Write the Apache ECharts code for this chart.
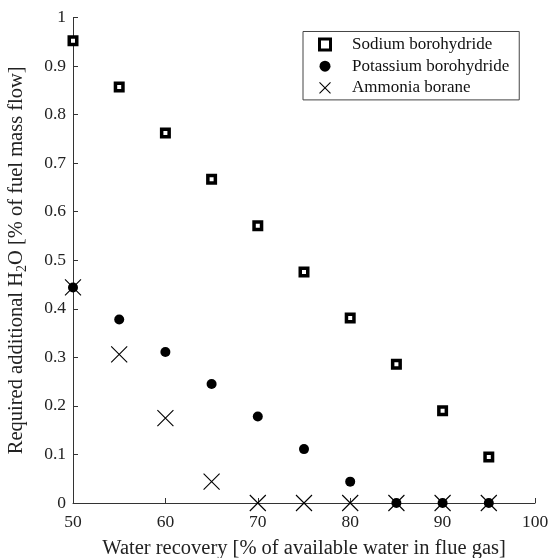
<!DOCTYPE html>
<html>
<head>
<meta charset="utf-8">
<script src="https://cdn.jsdelivr.net/npm/echarts@6/dist/echarts.min.js"></script>
<style>
  html, body { margin: 0; padding: 0; background: #fff; }
  #chart { width: 550px; height: 558px; }
</style>
</head>
<body>
<div id="chart"></div>
<script>
// water recovery [%]
const recovery = [50, 55, 60, 65, 70, 75, 80, 85, 90, 95]
// required additional water [% of fuel mass flow]
const sodium = [0.952, 0.857, 0.762, 0.667, 0.571, 0.476, 0.381, 0.286, 0.190, 0.095]
const potassium = [0.444, 0.378, 0.311, 0.245, 0.178, 0.111, 0.044, 0, 0, 0]
const ammonia = [0.444, 0.306, 0.175, 0.044, 0, 0, 0, 0, 0, 0]
const seriesNames = ['Sodium borohydride', 'Potassium borohydride', 'Ammonia borane']

const font = 'Liberation Serif, Times New Roman, serif'
const axisColor = '#333'
const textColor = '#222'
const crossPath = 'path://M0,0L10,10M10,0L0,10'

const pairs = (ys) => recovery.map((x, i) => [x, ys[i]])

const chart = echarts.init(document.getElementById('chart'))
chart.setOption({
  animation: false,
  textStyle: { fontFamily: font },
  grid: { left: 73, right: 15, top: 17.5, bottom: 55, containLabel: false, outerBoundsMode: 'none' },
  legend: {
    orient: 'vertical',
    left: 303,
    top: 31.5,
    padding: [4.6, 10, 3.6, 14],
    itemGap: 4.6,
    itemWidth: 30,
    itemHeight: 11,
    borderColor: '#444',
    borderWidth: 1,
    textStyle: { fontFamily: font, fontSize: 17, lineHeight: 16, color: '#111', padding: [0, 0, 0, 7] },
    data: [
      {
        name: seriesNames[0],
        icon: 'path://M0,0L10,0L10,10L0,10Z',
        itemStyle: { color: '#fff', borderColor: '#000', borderWidth: 3 },
      },
      { name: seriesNames[1], icon: 'circle', itemStyle: { color: '#000' } },
      {
        name: seriesNames[2],
        icon: crossPath,
        itemStyle: { color: 'none', borderColor: '#000', borderWidth: 1.1 },
      },
    ],
  },
  xAxis: {
    type: 'value',
    min: 50,
    max: 100,
    interval: 10,
    name: 'Water recovery [% of available water in flue gas]',
    nameLocation: 'middle',
    nameGap: 35,
    nameTextStyle: { fontFamily: font, fontSize: 20.5, color: textColor },
    axisLine: { lineStyle: { color: axisColor } },
    axisTick: { inside: true, length: 5, lineStyle: { color: axisColor } },
    axisLabel: { fontFamily: font, fontSize: 17.5, color: textColor, margin: 10 },
    splitLine: { show: false },
  },
  yAxis: {
    type: 'value',
    min: 0,
    max: 1,
    interval: 0.1,
    name: '{a|Required additional H}{s|2}{a|O [% of fuel mass flow]}',
    nameLocation: 'middle',
    nameGap: 44,
    nameTextStyle: {
      fontFamily: font,
      fontSize: 20.5,
      color: textColor,
      rich: {
        a: { fontFamily: font, fontSize: 20.5, color: textColor, lineHeight: 24, verticalAlign: 'middle' },
        s: { fontFamily: font, fontSize: 14, color: textColor, lineHeight: 24, verticalAlign: 'bottom', padding: [9, 0, 0, 0] },
      },
    },
    axisLine: { lineStyle: { color: axisColor } },
    axisTick: { inside: true, length: 5, lineStyle: { color: axisColor } },
    axisLabel: {
      fontFamily: font,
      fontSize: 17.5,
      color: textColor,
      margin: 7,
      formatter: (v) => (v === 0 || v === 1 ? String(v) : v.toFixed(1)),
    },
    splitLine: { show: false },
  },
  series: [
    {
      name: seriesNames[0],
      type: 'scatter',
      clip: false,
      symbol: 'rect',
      symbolSize: 7.5,
      itemStyle: { color: '#fff', borderColor: '#000', borderWidth: 3.5, opacity: 1 },
      data: pairs(sodium),
    },
    {
      name: seriesNames[1],
      type: 'scatter',
      clip: false,
      symbol: 'circle',
      symbolSize: 10,
      itemStyle: { color: '#000', opacity: 1 },
      data: pairs(potassium),
    },
    {
      name: seriesNames[2],
      type: 'scatter',
      clip: false,
      symbol: crossPath,
      symbolSize: 16,
      itemStyle: { color: 'none', borderColor: '#000', borderWidth: 1.1, opacity: 1 },
      data: pairs(ammonia),
    },
  ],
})
</script>
</body>
</html>
